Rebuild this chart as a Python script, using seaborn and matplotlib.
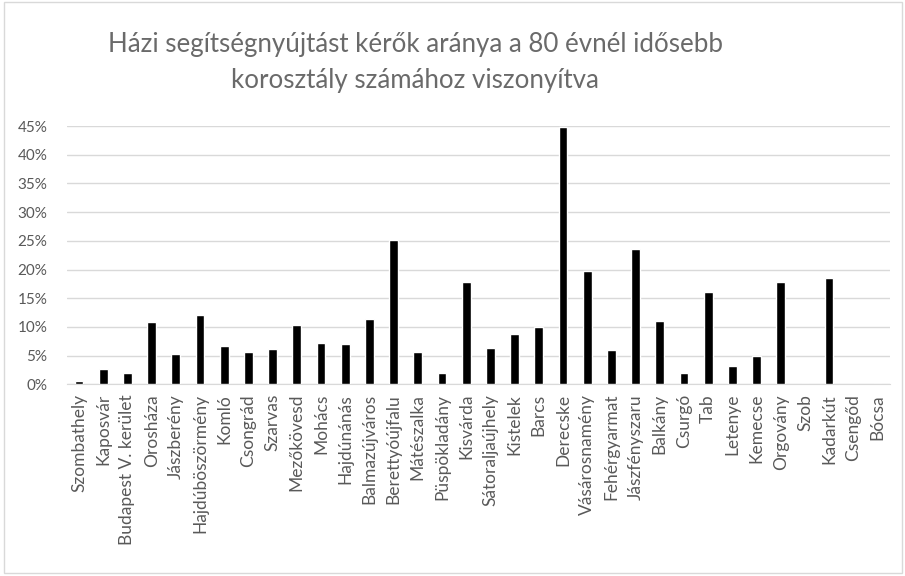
import pandas as pd
import matplotlib
matplotlib.use("Agg")
import matplotlib.pyplot as plt
from matplotlib.ticker import PercentFormatter
from matplotlib.patches import Rectangle
import seaborn as sns

telepulesek = [
    "Szombathely", "Kaposvár", "Budapest V. kerület", "Orosháza", "Jászberény",
    "Hajdúböszörmény", "Komló", "Csongrád", "Szarvas", "Mezőkövesd", "Mohács",
    "Hajdúnánás", "Balmazújváros", "Berettyóújfalu", "Mátészalka", "Püspökladány",
    "Kisvárda", "Sátoraljaújhely", "Kistelek", "Barcs", "Derecske", "Vásárosnamény",
    "Fehérgyarmat", "Jászfényszaru", "Balkány", "Csurgó", "Tab", "Letenye",
    "Kemecse", "Orgovány", "Szob", "Kadarkút", "Csengőd", "Bócsa",
]
arany = [
    0.0064, 0.026, 0.020, 0.109, 0.053, 0.120, 0.066, 0.056, 0.061, 0.103, 0.072,
    0.070, 0.113, 0.251, 0.056, 0.020, 0.179, 0.063, 0.087, 0.099, 0.448, 0.197,
    0.059, 0.236, 0.110, 0.020, 0.160, 0.031, 0.049, 0.179, 0.0, 0.186, 0.0, 0.0,
]
yticks = [0, 0.05, 0.10, 0.15, 0.20, 0.25, 0.30, 0.35, 0.40, 0.45]

df = pd.DataFrame({"telepules": telepulesek, "arany": arany})

sns.set_style("white")
plt.rcParams["font.family"] = ["Lato", "DejaVu Sans"]

grey = "#595959"
fig = plt.figure(figsize=(9.05, 5.76), dpi=100)
ax = fig.add_axes([0.074, 0.333, 0.909, 0.448])

sns.barplot(data=df, x="telepules", y="arany", color="black", width=0.36,
            saturation=1, ax=ax, zorder=3)

ax.set_ylim(0, 0.45)
ax.set_yticks(yticks)
ax.yaxis.set_major_formatter(PercentFormatter(1.0, decimals=0))
ax.set_xlim(-0.5, len(telepulesek) - 0.5)
ax.grid(axis="y", color="#d9d9d9", linewidth=1, zorder=0)
ax.set_xlabel("")
ax.set_ylabel("")
for s in ["top", "right", "left"]:
    ax.spines[s].set_visible(False)
ax.spines["bottom"].set_color("#d9d9d9")
ax.tick_params(axis="x", rotation=90, labelsize=12.5, colors=grey, length=0, pad=7)
ax.tick_params(axis="y", labelsize=11, colors=grey, length=0, pad=14)

fig.text(0.459, 0.922, "Házi segítségnyújtást kérők aránya a 80 évnél idősebb",
         ha="center", va="center", fontsize=18.6, color="#6a6a6a")
fig.text(0.459, 0.861, "korosztály számához viszonyítva",
         ha="center", va="center", fontsize=18.6, color="#6a6a6a")

fig.patches.append(Rectangle((0.004, 0.006), 0.993, 0.99, transform=fig.transFigure,
                             fill=False, edgecolor="#d9d9d9", linewidth=1))

fig.savefig("out.png", dpi=100)
